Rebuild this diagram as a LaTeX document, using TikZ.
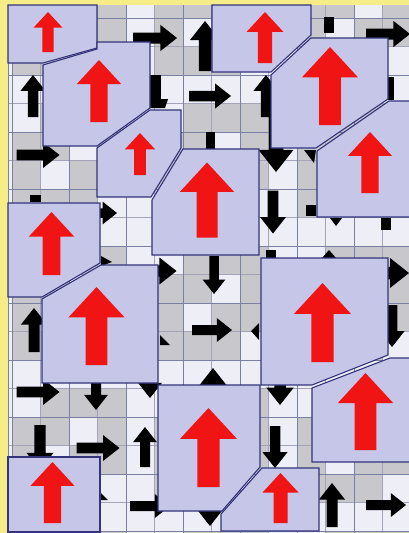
\documentclass[tikz,border=0pt]{standalone}
\usetikzlibrary{calc}
\definecolor{lav}{HTML}{C6C6E8}
\definecolor{edge}{HTML}{34347A}
\definecolor{arrred}{HTML}{F01414}
\definecolor{cellgray}{HTML}{C8C8CC}
\definecolor{cellwhite}{HTML}{EEEEF6}
\definecolor{ybord}{HTML}{F6EC88}
\definecolor{gridmain}{HTML}{7A80A0}
\definecolor{gridsub}{HTML}{A4A4B8}
\tikzset{
  poly/.style={fill=lav, draw=edge, line width=1.1pt, line join=miter},
  redarr/.style={fill=arrred},
  blkarr/.style={fill=black},
  cellw/.style={fill=cellwhite},
  subline/.style={draw=gridsub, line width=0.6pt},
  mainline/.style={draw=gridmain, line width=1pt}
}
\newcommand{\blkarrow}[4]{\fill[blkarr,shift={(#1,#2)},rotate=#3] (-0.5*#4,-0.125*#4) -- (0.12*#4,-0.125*#4) -- (0.12*#4,-0.3*#4) -- (0.5*#4,0) -- (0.12*#4,0.3*#4) -- (0.12*#4,0.125*#4) -- (-0.5*#4,0.125*#4) -- cycle;}
\newcommand{\redarrow}[3]{\fill[redarr,shift={(#1,#2)}] (-0.14*#3,0.5*#3) -- (-0.14*#3,-0.11*#3) -- (-0.36*#3,-0.11*#3) -- (0,-0.5*#3) -- (0.36*#3,-0.11*#3) -- (0.14*#3,-0.11*#3) -- (0.14*#3,0.5*#3) -- cycle;}
\begin{document}
\begin{tikzpicture}[x=1pt,y=-1pt]
\useasboundingbox (0,0) rectangle (409,533);
\fill[ybord] (0,0) rectangle (409,533);
% background grid
\begin{scope}
\clip (8,5) rectangle (409,533);
\fill[cellgray] (8,5) rectangle (409,533);
\foreach \i in {0,...,15}{\foreach \j in {0,...,19}{
  \pgfmathtruncatemacro{\r}{mod(\i*7+\j*5+\i*\j,5)}
  \ifnum\r<2 \fill[cellw] ({-16.5+28.5*\i},{-10.5+28.5*\j}) rectangle ++(28.5,28.5); \fi
}}
\foreach \i in {0,...,15}{\draw[subline] ({-16.5+28.5*\i},0) -- ++(0,540);}
\foreach \j in {0,...,19}{\draw[subline] (0,{-10.5+28.5*\j}) -- ++(420,0);}
\foreach \i in {0,...,7}{\draw[mainline] ({12+57*\i},0) -- ++(0,540);}
\foreach \j in {0,...,9}{\draw[mainline] (0,{18+57*\j}) -- ++(420,0);}
\draw[gridmain, line width=1pt] (8.5,5) -- (8.5,533);
\end{scope}
% black arrows
\blkarrow{155}{38}{0}{44}
\blkarrow{205}{46}{90}{50}
\blkarrow{33}{96}{90}{42}
\blkarrow{38}{155}{0}{43}
\blkarrow{210}{96}{0}{42}
\blkarrow{266}{96}{90}{42}
\blkarrow{388}{34}{0}{44}
\blkarrow{276}{143}{270}{58}
\blkarrow{273}{212}{270}{43}
\blkarrow{384}{273}{0}{50}
\blkarrow{392}{326}{270}{42}
\blkarrow{214}{275}{270}{38}
\blkarrow{212}{330}{0}{40}
\blkarrow{98}{213}{0}{38}
\blkarrow{154}{271}{0}{45}
\blkarrow{34}{330}{90}{44}
\blkarrow{38}{392}{0}{43}
\blkarrow{96}{390}{270}{40}
\blkarrow{150}{378}{270}{40}
\blkarrow{40}{447.5}{270}{45}
\blkarrow{98}{448}{0}{43}
\blkarrow{145}{447}{90}{40}
\blkarrow{150}{506}{0}{40}
\blkarrow{213}{393}{90}{50}
\blkarrow{280}{382}{270}{46}
\blkarrow{275}{447}{270}{42}
\blkarrow{332}{505}{90}{44}
\blkarrow{386}{505}{0}{40}
\blkarrow{210}{505}{270}{42}
% small black bits
\fill[blkarr] (150,75) rectangle (161,105);
\fill[blkarr] (150,99) -- (168,99) -- (165,108) -- (150,108) -- cycle;
\fill[blkarr] (324,17) rectangle (334,33);
\fill[blkarr] (206,132) rectangle (215,150);
\fill[blkarr] (304,150) -- (316,150) -- (314,163) -- cycle;
\fill[blkarr] (306,205) rectangle (316,216);
\fill[blkarr] (330,218) -- (342,218) -- (336,226) -- cycle;
\fill[blkarr] (381,218) rectangle (391,230);
\fill[blkarr] (322,258) -- (336,258) -- (329,250) -- cycle;
\fill[blkarr] (266,250) rectangle (276,258);
\fill[blkarr] (259,323) -- (259,340) -- (251,331) -- cycle;
\fill[blkarr] (30,195) rectangle (41,202);
\fill[blkarr] (101,256) -- (112,262) -- (101,266) -- cycle;
\fill[blkarr] (160,335) -- (170,345) -- (160,345) -- cycle;
\fill[blkarr] (100,492) -- (108,500) -- (100,500) -- cycle;
\fill[blkarr] (388,77) rectangle (394,100);
% lavender regions
\draw[poly] (8,5) -- (97,5) -- (97,48) -- (43,63) -- (8,63) -- cycle;
\draw[poly] (43,65) -- (97,49) -- (97,42) -- (150,42) -- (150,108) -- (97,146) -- (43,146) -- cycle;
\draw[poly] (97,148) -- (150,110) -- (181,110) -- (181,148) -- (151,197) -- (97,197) -- cycle;
\draw[poly] (152,200) -- (183,149) -- (259,149) -- (259,255) -- (152,255) -- cycle;
\draw[poly] (212,5) -- (311,5) -- (311,35) -- (271,72) -- (212,72) -- cycle;
\draw[poly] (271,75) -- (311,38) -- (388,38) -- (388,99) -- (316,148) -- (271,148) -- cycle;
\draw[poly] (317,151) -- (389,101) -- (412,101) -- (412,217) -- (317,217) -- cycle;
\draw[poly] (8,203) -- (100,203) -- (100,263) -- (42,297) -- (8,297) -- cycle;
\draw[poly] (42,299) -- (101,265) -- (158,265) -- (158,383) -- (42,383) -- cycle;
\draw[poly] (261,258) -- (388,258) -- (388,355) -- (312,385) -- (261,385) -- cycle;
\draw[poly] (312,388) -- (390,358) -- (412,358) -- (412,462) -- (312,462) -- cycle;
\draw[poly] (158,385) -- (260,385) -- (260,467) -- (222,511) -- (158,511) -- cycle;
\draw[poly] (262,468) -- (319,468) -- (319,531) -- (221,531) -- (221,514) -- cycle;
\draw[poly] (8,457) -- (100,457) -- (100,532) -- (8,532) -- cycle;
% red arrows
\redarrow{48}{32}{40}
\redarrow{99}{91}{62}
\redarrow{140}{154}{42}
\redarrow{207}{200}{75}
\redarrow{265}{37.5}{51}
\redarrow{330}{86}{78}
\redarrow{370}{162.5}{61}
\redarrow{51.5}{243.5}{63}
\redarrow{96.5}{326}{78}
\redarrow{322.5}{322.5}{79}
\redarrow{365.5}{411.5}{77}
\redarrow{208.5}{447.5}{79}
\redarrow{280.5}{498}{50}
\redarrow{52.5}{492.5}{61}
\end{tikzpicture}
\end{document}
